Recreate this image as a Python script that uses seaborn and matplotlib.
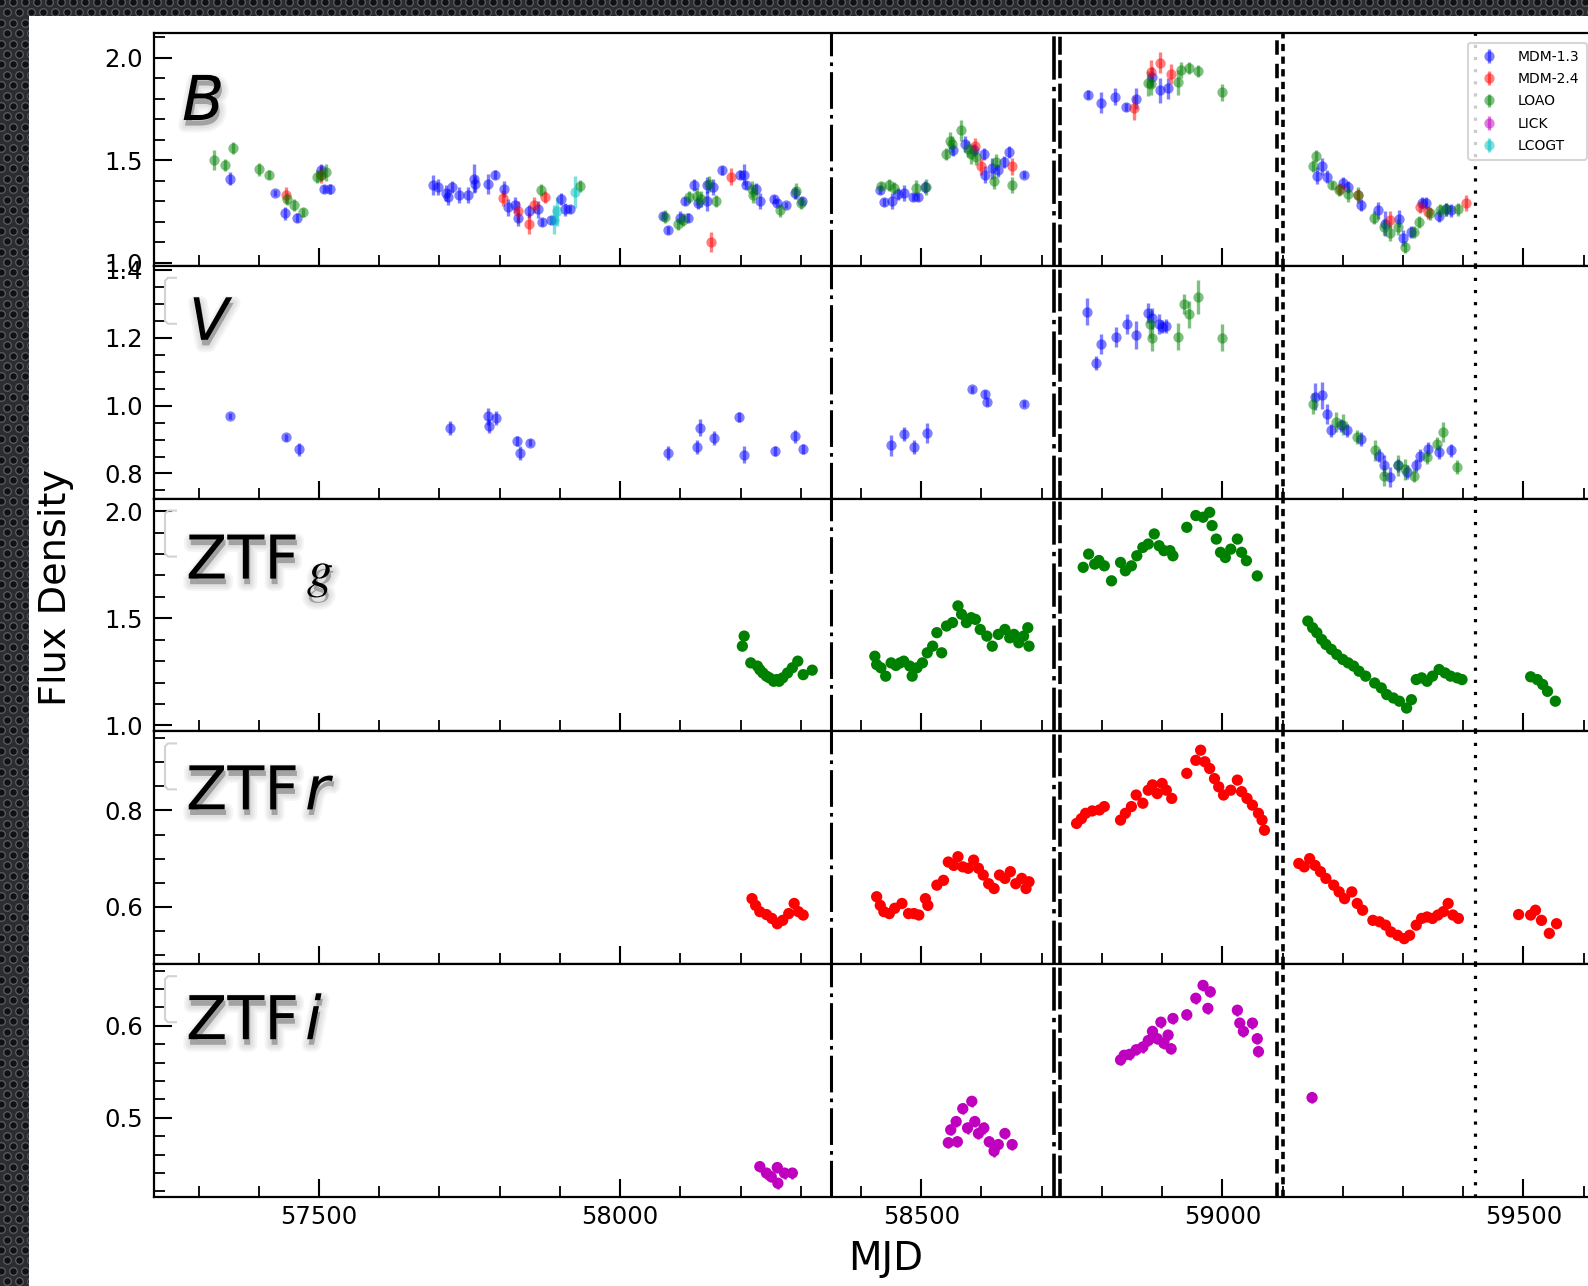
import numpy as np
import pandas as pd
import seaborn as sns
import matplotlib
matplotlib.use("Agg")
import matplotlib.pyplot as plt
import matplotlib.patheffects as pe
import matplotlib.transforms as mtransforms
from matplotlib.ticker import MultipleLocator
from matplotlib.patches import Rectangle, PathPatch
from matplotlib.path import Path

# ---------------------------------------------------------------- data
# (MJD, flux, error)
B_MDM13 = [(57353,1.41,0.03),(57427,1.34,0.015),(57444,1.24,0.03),(57464,1.22,0.02),(57503,1.45,0.03),(57508,1.36,0.02),(57518,1.36,0.025),
           (57690,1.38,0.05),(57698,1.37,0.04),(57711,1.34,0.04),(57715,1.32,0.04),(57721,1.37,0.03),(57732,1.33,0.04),(57748,1.33,0.04),
           (57757,1.41,0.07),(57759,1.385,0.04),(57780,1.385,0.05),(57793,1.43,0.02),(57807,1.36,0.04),(57814,1.27,0.04),(57826,1.28,0.04),
           (57831,1.22,0.04),(57848,1.25,0.03),(57864,1.26,0.04),(57871,1.20,0.02),(57886,1.21,0.02),(57902,1.31,0.03),(57909,1.26,0.03),(57917,1.26,0.02),
           (58072,1.23,0.015),(58079,1.16,0.02),(58100,1.22,0.03),(58108,1.30,0.02),(58112,1.22,0.02),(58123,1.38,0.03),(58129,1.29,0.03),
           (58144,1.38,0.04),(58145,1.30,0.05),(58154,1.37,0.04),(58170,1.45,0.02),(58199,1.43,0.02),(58205,1.43,0.05),(58209,1.38,0.02),
           (58225,1.36,0.03),(58232,1.30,0.04),(58255,1.31,0.02),(58260,1.29,0.02),(58276,1.28,0.015),(58290,1.34,0.03),(58302,1.30,0.02),
           (58431,1.355,0.02),(58439,1.295,0.02),(58451,1.30,0.04),(58462,1.335,0.03),(58472,1.34,0.04),(58487,1.32,0.02),(58495,1.32,0.02),
           (58507,1.37,0.03),(58553,1.55,0.03),(58572,1.58,0.04),(58588,1.55,0.03),(58605,1.53,0.03),(58606,1.43,0.04),(58618,1.46,0.05),
           (58628,1.45,0.03),(58637,1.49,0.03),(58646,1.54,0.03),(58670,1.43,0.015),
           (58777,1.82,0.02),(58798,1.78,0.05),(58821,1.81,0.04),(58840,1.76,0.02),(58857,1.80,0.05),(58884,1.905,0.05),(58896,1.84,0.06),(58909,1.85,0.05),
           (59158,1.425,0.04),(59166,1.47,0.04),(59174,1.42,0.03),(59201,1.39,0.03),(59209,1.37,0.03),(59230,1.28,0.03),(59259,1.255,0.04),
           (59270,1.19,0.06),(59294,1.215,0.04),(59300,1.12,0.04),(59313,1.15,0.03),(59332,1.29,0.03),(59338,1.29,0.03),(59359,1.23,0.03),
           (59371,1.26,0.03),(59380,1.255,0.03)]
B_MDM24 = [(57446,1.33,0.04),(57503,1.43,0.04),(57805,1.315,0.04),(57831,1.25,0.05),(57848,1.19,0.05),(57857,1.28,0.04),(57875,1.32,0.03),
           (58151,1.10,0.05),(58184,1.42,0.04),(58589,1.57,0.04),(58600,1.47,0.04),(58651,1.47,0.04),(58853,1.755,0.06),(58882,1.93,0.06),
           (58896,1.975,0.05),(58915,1.92,0.05),(59195,1.36,0.03),(59226,1.33,0.03),(59279,1.21,0.04),(59328,1.27,0.03),(59341,1.245,0.03),(59405,1.29,0.04)]
B_LOAO = [(57326,1.50,0.05),(57344,1.475,0.03),(57357,1.56,0.03),(57401,1.455,0.03),(57417,1.43,0.02),(57447,1.31,0.03),(57458,1.28,0.03),
          (57474,1.245,0.02),(57496,1.42,0.03),(57503,1.43,0.03),(57511,1.44,0.04),(57869,1.355,0.03),(57934,1.375,0.03),
          (58074,1.225,0.03),(58096,1.19,0.03),(58104,1.21,0.03),(58115,1.32,0.03),(58127,1.323,0.04),(58135,1.31,0.04),(58148,1.385,0.04),
          (58159,1.30,0.03),(58219,1.36,0.04),(58220,1.33,0.04),(58265,1.255,0.03),(58292,1.35,0.04),(58301,1.29,0.03),
          (58433,1.375,0.02),(58446,1.38,0.03),(58454,1.365,0.03),(58491,1.365,0.04),(58508,1.37,0.04),(58541,1.53,0.03),(58547,1.595,0.04),
          (58551,1.58,0.04),(58566,1.645,0.05),(58577,1.555,0.04),(58583,1.53,0.05),(58591,1.515,0.04),(58621,1.40,0.04),(58624,1.49,0.04),(58651,1.38,0.04),
          (58876,1.875,0.06),(58882,1.87,0.05),(58927,1.88,0.06),(58931,1.94,0.04),(58944,1.95,0.03),(58960,1.935,0.03),(58999,1.83,0.04),
          (59151,1.47,0.03),(59155,1.52,0.03),(59182,1.38,0.02),(59194,1.355,0.03),(59208,1.335,0.04),(59225,1.33,0.04),(59252,1.22,0.03),
          (59268,1.175,0.04),(59279,1.145,0.04),(59291,1.175,0.04),(59304,1.075,0.03),(59318,1.15,0.03),(59326,1.20,0.03),(59345,1.24,0.03),
          (59361,1.255,0.03),(59372,1.26,0.03),(59391,1.26,0.03)]
B_LICK = []
B_LCOGT = [(57890,1.21,0.07),(57896,1.25,0.07),(57925,1.345,0.08)]

V_MDM13 = [(57353,0.969,0.008),(57445,0.907,0.01),(57466,0.871,0.02),(57717,0.934,0.02),(57780,0.969,0.025),(57783,0.94,0.02),
           (57794,0.964,0.02),(57829,0.896,0.015),(57833,0.861,0.02),(57850,0.891,0.01),(58080,0.861,0.02),(58127,0.878,0.02),
           (58133,0.935,0.025),(58156,0.904,0.02),(58197,0.966,0.015),(58206,0.855,0.025),(58257,0.866,0.015),(58290,0.909,0.02),
           (58304,0.873,0.015),(58450,0.883,0.03),(58472,0.917,0.02),(58488,0.878,0.02),(58510,0.92,0.03),(58584,1.048,0.01),
           (58606,1.033,0.012),(58609,1.011,0.012),(58671,1.006,0.01),
           (58776,1.277,0.04),(58791,1.126,0.02),(58799,1.181,0.03),(58823,1.203,0.03),(58842,1.24,0.03),(58857,1.208,0.04),
           (58877,1.272,0.03),(58883,1.257,0.03),(58895,1.24,0.03),(58900,1.233,0.02),(58907,1.235,0.02),
           (59154,1.026,0.04),(59166,1.031,0.04),(59174,0.976,0.03),(59181,0.927,0.02),(59197,0.942,0.02),(59207,0.927,0.02),
           (59230,0.902,0.02),(59260,0.853,0.02),(59268,0.824,0.03),(59279,0.789,0.03),(59291,0.824,0.02),(59306,0.804,0.02),
           (59321,0.824,0.02),(59329,0.853,0.02),(59341,0.873,0.02),(59360,0.863,0.02),(59379,0.868,0.02)]
V_LOAO = [(58880,1.24,0.04),(58883,1.20,0.04),(58926,1.203,0.04),(58936,1.299,0.03),(58944,1.269,0.04),(58959,1.321,0.05),(58999,1.20,0.04),
          (59151,1.006,0.03),(59189,0.952,0.03),(59200,0.944,0.03),(59223,0.907,0.02),(59253,0.868,0.03),(59268,0.794,0.03),
          (59291,0.824,0.03),(59303,0.812,0.03),(59318,0.794,0.02),(59340,0.848,0.02),(59357,0.888,0.02),(59367,0.922,0.03),(59390,0.819,0.02)]

# ZTF (MJD, flux)
ZTF_g = [(58203,1.37),(58206,1.417),(58217,1.292),(58228,1.277),(58232,1.26),(58237,1.245),(58243,1.23),(58248,1.222),(58255,1.206),
         (58260,1.214),(58264,1.206),(58270,1.222),(58278,1.245),(58286,1.269),(58295,1.30),(58304,1.237),(58319,1.258),
         (58423,1.323),(58426,1.284),(58433,1.269),(58441,1.23),(58450,1.292),(58458,1.28),(58465,1.292),(58471,1.30),(58481,1.277),
         (58485,1.23),(58493,1.269),(58502,1.292),(58510,1.339),(58519,1.37),(58526,1.433),(58534,1.339),(58542,1.464),(58552,1.48),
         (58561,1.558),(58567,1.519),(58575,1.48),(58583,1.503),(58590,1.495),(58598,1.448),(58609,1.417),(58618,1.37),(58628,1.425),
         (58639,1.448),(58647,1.409),(58654,1.425),(58662,1.386),(58670,1.417),(58677,1.456),(58679,1.37),
         (58769,1.738),(58778,1.80),(58788,1.753),(58795,1.77),(58804,1.745),(58816,1.675),(58831,1.761),(58839,1.722),(58849,1.745),
         (58858,1.792),(58868,1.831),(58877,1.847),(58887,1.894),(58895,1.839),(58903,1.816),(58913,1.816),(58918,1.792),(58941,1.925),
         (58956,1.98),(58968,1.972),(58979,1.995),(58983,1.933),(58990,1.87),(58997,1.808),(59005,1.784),(59014,1.823),(59025,1.87),
         (59032,1.808),(59040,1.769),(59058,1.698),
         (59142,1.487),(59150,1.456),(59157,1.433),(59165,1.401),(59172,1.378),(59181,1.355),(59190,1.331),(59200,1.308),(59209,1.292),
         (59218,1.277),(59227,1.253),(59238,1.23),(59253,1.198),(59264,1.175),(59273,1.144),(59284,1.128),(59294,1.113),(59306,1.081),
         (59314,1.12),(59322,1.214),(59331,1.222),(59340,1.206),(59349,1.23),(59360,1.261),(59370,1.245),(59379,1.23),(59390,1.222),(59398,1.214),
         (59512,1.227),(59523,1.214),(59532,1.191),(59540,1.159),(59553,1.113)]
ZTF_r = [(58219,0.617),(58225,0.603),(58232,0.59),(58243,0.584),(58252,0.576),(58261,0.565),(58270,0.572),(58280,0.586),(58289,0.607),
         (58296,0.59),(58304,0.583),
         (58426,0.621),(58432,0.603),(58438,0.59),(58447,0.586),(58456,0.597),(58468,0.607),(58479,0.586),(58488,0.586),(58496,0.583),
         (58507,0.617),(58511,0.603),(58526,0.645),(58537,0.655),(58545,0.693),(58554,0.686),(58561,0.704),(58569,0.683),(58578,0.68),
         (58587,0.697),(58595,0.68),(58603,0.666),(58612,0.648),(58621,0.638),(58630,0.666),(58639,0.659),(58648,0.673),(58657,0.648),
         (58667,0.659),(58674,0.638),(58679,0.652),
         (58758,0.773),(58766,0.783),(58773,0.794),(58784,0.799),(58796,0.801),(58804,0.808),(58831,0.78),(58839,0.794),(58849,0.808),
         (58857,0.832),(58868,0.815),(58877,0.842),(58884,0.853),(58892,0.835),(58900,0.856),(58907,0.842),(58916,0.825),(58941,0.877),
         (58956,0.904),(58964,0.925),(58971,0.901),(58979,0.887),(58987,0.866),(58994,0.849),(59002,0.832),(59014,0.842),(59025,0.863),
         (59032,0.839),(59041,0.825),(59050,0.811),(59060,0.794),(59066,0.78),(59070,0.759),
         (59127,0.69),(59136,0.683),(59145,0.70),(59154,0.686),(59163,0.673),(59172,0.659),(59185,0.645),(59194,0.631),(59203,0.617),
         (59215,0.631),(59224,0.607),(59233,0.593),(59250,0.572),(59261,0.569),(59271,0.562),(59280,0.548),(59291,0.541),(59302,0.534),
         (59311,0.541),(59322,0.562),(59331,0.576),(59340,0.579),(59349,0.576),(59358,0.583),(59367,0.59),(59375,0.607),(59383,0.583),(59392,0.576),
         (59492,0.584),(59512,0.583),(59520,0.593),(59530,0.572),(59543,0.545),(59555,0.565)]
ZTF_i = [(58232,0.447),(58243,0.44),(58251,0.436),(58261,0.446),(58262,0.429),(58273,0.44),(58286,0.44),
         (58545,0.473),(58549,0.487),(58558,0.496),(58560,0.474),(58569,0.51),(58577,0.489),(58584,0.518),(58589,0.496),(58595,0.483),
         (58604,0.489),(58613,0.474),(58621,0.464),(58628,0.471),(58639,0.483),(58651,0.471),
         (58831,0.563),(58837,0.568),(58846,0.569),(58857,0.574),(58868,0.577),(58877,0.584),(58884,0.594),(58892,0.586),(58898,0.604),
         (58903,0.581),(58910,0.59),(58915,0.575),(58918,0.608),(58941,0.612),(58956,0.63),(58968,0.644),(58976,0.619),(58980,0.637),
         (59025,0.617),(59029,0.603),(59035,0.594),(59050,0.603),(59058,0.586),(59060,0.572),
         (59149,0.522)]
ZTF_err = {"g": 0.01, "r": 0.006, "i": 0.006}

telescopes = ["MDM-1.3", "MDM-2.4", "LOAO", "LICK", "LCOGT"]
tel_colors = ["#0000ff", "#ff0000", "#008000", "#bf00bf", "#00bfbf"]
ztf_colors = {"g": "#008000", "r": "#ff0000", "i": "#bf00bf"}

vline_mjd = [58350, 58721, 58731, 59091, 59100, 59420]
vline_styles = [((0, (12, 2, 1.2, 2)), 2.2), ((0, (12, 2, 1.2, 2)), 2.6), ((0, (5, 1.5)), 2.6),
                ((0, (4, 2.5)), 2.6), ((0, (2, 1.5)), 2.6), ((0, (1, 2.8)), 2.3)]

panel_ylims = [(0.985, 2.12), (0.726, 1.412), (0.972, 2.059), (0.481, 0.964), (0.414, 0.667)]
panel_major = [0.5, 0.2, 0.5, 0.2, 0.1]
panel_minor = [0.1, 0.05, 0.1, 0.05, 0.02]
XLIM = (57226, 59760)

# ---------------------------------------------------------------- style
sns.set_theme(style="ticks")
plt.rcParams["font.family"] = ["DejaVu Sans"]
plt.rcParams["mathtext.fontset"] = "dejavusans"
for key in ("text.color", "axes.labelcolor", "xtick.color", "ytick.color", "axes.edgecolor"):
    plt.rcParams[key] = "black"

W, H = 1588, 1286
fig = plt.figure(figsize=(W / 100, H / 100), dpi=100)

# screenshot background (dark perforated border)
bg = fig.add_axes([0, 0, 1, 1], zorder=-10)
bg.set_xlim(0, W); bg.set_ylim(H, 0); bg.axis("off")
bg.add_patch(Rectangle((0, 0), W, H, facecolor="#2b2d30", edgecolor="none"))
hx, hy = [], []
for row in range(130):
    yy = 2 + row * 10.4
    off = 6 if row % 2 else 0
    for col in range(140):
        xx = 1 + col * 12 + off
        if xx < 34 or yy < 20:
            hx.append(xx); hy.append(yy)
bg.scatter(hx, hy, s=30, facecolor="#101113", edgecolor="#5a5e63", linewidth=0.9)
bg.add_patch(Rectangle((29, 16), W - 29, H - 16, facecolor="white", edgecolor="none"))

gs = fig.add_gridspec(5, 1, left=154 / W, right=1680 / W, top=1 - 33 / H, bottom=1 - 1197 / H, hspace=0)
axes = [fig.add_subplot(gs[k]) for k in range(5)]


def tl(ax):
    """pixel offsets from the top-left corner of an axes"""
    return mtransforms.Affine2D() + mtransforms.ScaledTranslation(0, 1, ax.transAxes)


def plot_tel(ax, data, color, label=None):
    if len(data):
        x, y, e = zip(*data)
    else:
        x, y, e = [np.nan], [np.nan], [np.nan]
    df = pd.DataFrame({"mjd": x, "flux": y, "err": e})
    return ax.errorbar(df["mjd"], df["flux"], yerr=df["err"], fmt="o", color=color, ms=7.4,
                       mew=0, elinewidth=2.4, capsize=0, alpha=0.5, label=label, zorder=3)


def plot_ztf(ax, data, band):
    df = pd.DataFrame(data, columns=["mjd", "flux"])
    c = ztf_colors[band]
    ax.errorbar(df["mjd"], df["flux"], yerr=ZTF_err[band], fmt="none", ecolor=c, elinewidth=1.8, capsize=0, zorder=3)
    sns.scatterplot(data=df, x="mjd", y="flux", ax=ax, color=c, s=66, edgecolor="none", linewidth=0, zorder=4, legend=False)


# B panel
axB = axes[0]
handles = []
for tel, col, dat in zip(telescopes, tel_colors, [B_MDM13, B_MDM24, B_LOAO, B_LICK, B_LCOGT]):
    handles.append(plot_tel(axB, dat, col, tel))
# V panel
plot_tel(axes[1], V_MDM13, tel_colors[0])
plot_tel(axes[1], V_LOAO, tel_colors[2])
# ZTF
plot_ztf(axes[2], ZTF_g, "g")
plot_ztf(axes[3], ZTF_r, "r")
plot_ztf(axes[4], ZTF_i, "i")

for k, ax in enumerate(axes):
    ax.set_facecolor("white")
    ax.set_xlim(*XLIM)
    ax.set_ylim(*panel_ylims[k])
    ax.xaxis.set_major_locator(MultipleLocator(500))
    ax.xaxis.set_minor_locator(MultipleLocator(100))
    ax.yaxis.set_major_locator(MultipleLocator(panel_major[k]))
    ax.yaxis.set_minor_locator(MultipleLocator(panel_minor[k]))
    ax.tick_params(which="both", direction="in", top=False, right=False, colors="black", labelsize=17.5)
    ax.tick_params(which="major", length=13, width=1.5)
    ax.tick_params(which="minor", length=8, width=1.3)
    ax.tick_params(axis="y", which="both", pad=8)
    ax.tick_params(axis="x", which="both", pad=6, labelbottom=(k == 4))
    ax.set_xlabel(""); ax.set_ylabel("")
    for s in ax.spines.values():
        s.set_color("black"); s.set_linewidth(1.6)
    for xv, (ls, lw) in zip(vline_mjd, vline_styles):
        ax.axvline(xv, color="black", ls=ls, lw=lw, zorder=5)

# panel labels with soft shadow (mostly below the glyphs)
def shadow(off=(1.0, -4.0)):
    return ([pe.Stroke(offset=off, linewidth=w, foreground="black", alpha=0.04) for w in (10, 7, 4)]
            + [pe.SimplePatchShadow(offset=off, shadow_rgbFace="black", alpha=0.18), pe.Normal()])

def bracket(ax):
    verts = [(23, -12), (14, -12), (11, -15), (11, -55), (14, -58), (23, -58)]
    p = Path(verts, [Path.MOVETO] + [Path.LINETO] * 5)
    ax.add_patch(PathPatch(p, transform=tl(ax), fill=False, edgecolor="#d2d2d2", lw=1.5, clip_on=False, zorder=6))

axB.text(28, -87, "B", transform=tl(axB), fontsize=44.5, fontstyle="italic", va="baseline", ha="left",
         color="black", path_effects=shadow(), zorder=7, clip_on=False)
bracket(axes[1])
axes[1].text(35, -74, "V", transform=tl(axes[1]), fontsize=42, fontstyle="italic", va="baseline", ha="left",
             color="black", path_effects=shadow(), zorder=7, clip_on=False)
for k, band, dy in [(2, "g", -80), (3, "r", -78), (4, "i", -75)]:
    ax = axes[k]
    bracket(ax)
    ax.text(32, dy, "ZTF", transform=tl(ax), fontsize=43.5, va="baseline", ha="left",
            color="black", path_effects=shadow(), zorder=7, clip_on=False)
    if band == "g":
        ax.text(153, dy - 8, "g", transform=tl(ax), fontsize=38, family="STIXGeneral", fontstyle="italic",
                va="baseline", ha="left", color="black", path_effects=shadow(), zorder=7, clip_on=False)
    else:
        ax.text(151, dy, band, transform=tl(ax), fontsize=43.5, fontstyle="italic",
                va="baseline", ha="left", color="black", path_effects=shadow(), zorder=7, clip_on=False)

leg = axB.legend(handles=handles, labels=telescopes, loc="upper left",
                 bbox_to_anchor=(1468 / W, 1 - 42.7 / H), bbox_transform=fig.transFigure,
                 fontsize=10, frameon=True, framealpha=0.8, edgecolor="#cccccc", fancybox=True,
                 borderaxespad=0, borderpad=0.5, labelspacing=0.6, handlelength=2.0, handletextpad=1.1)
leg.set_zorder(10)
leg.get_frame().set_linewidth(1.5)
for t in leg.get_texts():
    t.set_color("black")

fig.text(56 / W, 1 - 587 / H, "Flux Density", rotation=90, fontsize=27.5, ha="center", va="center", color="black")
fig.text(886 / W, 1 - 1259 / H, "MJD", fontsize=28, ha="center", va="center", color="black")

fig.savefig("out.png", dpi=100)
